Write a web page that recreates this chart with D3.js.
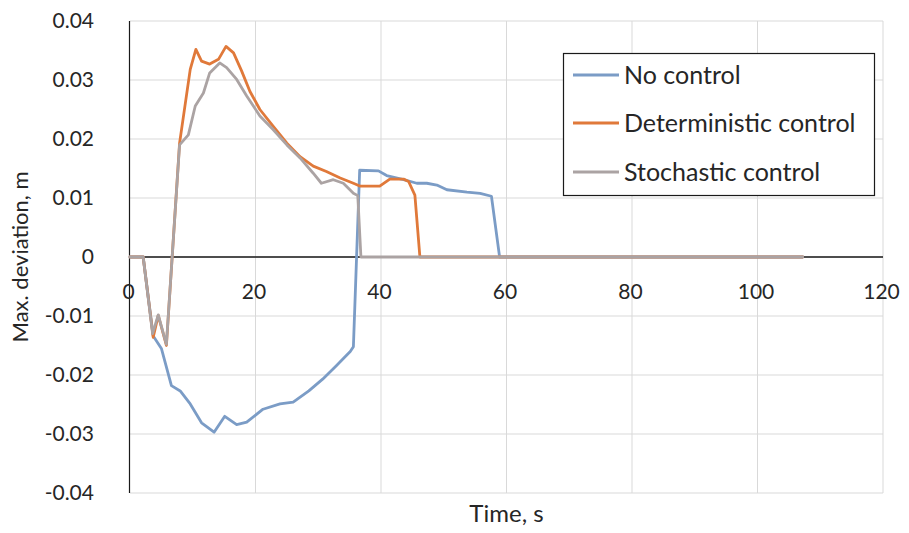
<!DOCTYPE html>
<html>
<head>
<meta charset="utf-8">
<script src="https://cdn.jsdelivr.net/npm/d3@7"></script>
<style>
  html, body { margin: 0; padding: 0; background: #fff; }
  svg { display: block; }
  text { font-family: Lato, "Open Sans", sans-serif; fill: #262626; }
</style>
</head>
<body>
<svg id="chart" width="909" height="533"></svg>
<script>
// Time axis samples (s) and maximum deviation (m) per control strategy
const noControlTime = [0, 2.1, 3.7, 5.0, 6.6, 8.0, 9.6, 11.4, 13.4, 15.1, 17.0, 18.6, 21.2, 23.9, 26.0, 28.5, 30.7, 32.8, 35.1, 35.6, 36.6, 39.6, 40.9, 43.6, 45.7, 47.3, 48.9, 50.5, 53.7, 55.8, 57.6, 58.9, 107.2];
const noControlValue = [0, 0, -0.0134, -0.0155, -0.0218, -0.0227, -0.0249, -0.0281, -0.0297, -0.0270, -0.0284, -0.0280, -0.0258, -0.0249, -0.0246, -0.0227, -0.0207, -0.0185, -0.0160, -0.0152, 0.0147, 0.0146, 0.0138, 0.0131, 0.0125, 0.0125, 0.0122, 0.0114, 0.0110, 0.0108, 0.0103, 0, 0];

const detTime = [0, 2.1, 3.7, 4.5, 5.8, 7.9, 9.6, 10.5, 11.4, 12.7, 14.1, 15.3, 16.5, 17.8, 19.1, 20.7, 22.8, 25.0, 27.1, 29.2, 31.3, 33.5, 35.6, 36.7, 39.8, 41.4, 43.6, 44.4, 45.4, 46.2, 107.2];
const detValue = [0, 0, -0.0136, -0.0099, -0.0150, 0.0193, 0.0318, 0.0352, 0.0332, 0.0327, 0.0335, 0.0357, 0.0346, 0.0315, 0.0281, 0.0250, 0.0222, 0.0193, 0.0170, 0.0154, 0.0145, 0.0134, 0.0125, 0.0120, 0.0120, 0.0132, 0.0132, 0.0128, 0.0105, 0, 0];

const stoTime = [0, 2.1, 3.6, 4.5, 5.8, 7.9, 9.3, 10.4, 11.7, 12.7, 14.3, 15.4, 17.0, 18.6, 20.7, 22.8, 25.0, 27.1, 29.2, 30.5, 32.4, 34.0, 35.6, 36.3, 36.8, 107.2];
const stoValue = [0, 0, -0.0130, -0.0098, -0.0148, 0.0190, 0.0207, 0.0256, 0.0278, 0.0312, 0.0329, 0.0321, 0.0301, 0.0273, 0.0239, 0.0216, 0.0190, 0.0168, 0.0142, 0.0125, 0.0131, 0.0125, 0.0108, 0.0104, 0, 0];

const seriesNames = ["No control", "Deterministic control", "Stochastic control"];
const seriesColors = ["#7b9cc6", "#e0793a", "#aba3a3"];

const xTicks = [0, 20, 40, 60, 80, 100, 120];
const yTicks = [-0.04, -0.03, -0.02, -0.01, 0, 0.01, 0.02, 0.03, 0.04];

const svg = d3.select("#chart");
const plot = { left: 130, right: 883, top: 21, bottom: 493 };

const x = d3.scaleLinear().domain([0, 120]).range([plot.left, plot.right]);
const y = d3.scaleLinear().domain([-0.04, 0.04]).range([plot.bottom, plot.top]);

// Gridlines
svg.append("g").selectAll("line.h").data(yTicks).join("line")
  .attr("x1", plot.left).attr("x2", plot.right)
  .attr("y1", d => y(d)).attr("y2", d => y(d))
  .attr("stroke", "#d9d9d9").attr("stroke-width", 1);
svg.append("g").selectAll("line.v").data(xTicks.filter(d => d > 0)).join("line")
  .attr("x1", d => x(d)).attr("x2", d => x(d))
  .attr("y1", plot.top).attr("y2", plot.bottom)
  .attr("stroke", "#d9d9d9").attr("stroke-width", 1);

// Vertical axis with labels
const yAxis = d3.axisLeft(y).tickValues(yTicks).tickSize(0).tickPadding(0)
  .tickFormat(d => d === 0 ? "0" : d3.format(".2f")(d).replace("−", "-"));
const yG = svg.append("g").attr("transform", `translate(${plot.left - 36},0)`).call(yAxis);
yG.select(".domain").remove();
yG.selectAll("text").style("font-size", "21px").attr("fill", "#262626");

svg.append("line")
  .attr("x1", plot.left - 0.5).attr("x2", plot.left - 0.5)
  .attr("y1", plot.top).attr("y2", plot.bottom)
  .attr("stroke", "#1a1a1a").attr("stroke-width", 1.2);

// Horizontal axis through zero, labels just below it
svg.append("line")
  .attr("x1", plot.left).attr("x2", plot.right)
  .attr("y1", y(0)).attr("y2", y(0))
  .attr("stroke", "#1a1a1a").attr("stroke-width", 1.5);
const xAxis = d3.axisBottom(x).tickValues(xTicks).tickSize(0).tickPadding(0);
const xG = svg.append("g").attr("transform", `translate(-2,${y(0) + 35})`).call(xAxis);
xG.select(".domain").remove();
xG.selectAll("text").style("font-size", "21px").attr("fill", "#262626").attr("dy", "0.35em");

// Series lines
const times = [noControlTime, detTime, stoTime];
const values = [noControlValue, detValue, stoValue];
const line = d3.line().x(d => x(d[0])).y(d => y(d[1]));
times.forEach((t, i) => {
  const pts = t.map((tv, j) => [tv, values[i][j]]);
  svg.append("path").datum(pts)
    .attr("d", line)
    .attr("fill", "none")
    .attr("stroke", seriesColors[i])
    .attr("stroke-width", 2.8)
    .attr("stroke-linejoin", "round")
    .attr("stroke-linecap", "round");
});

// Axis titles
svg.append("text")
  .attr("x", (plot.left + plot.right) / 2).attr("y", 522)
  .attr("text-anchor", "middle").style("font-size", "24px")
  .text("Time, s");
svg.append("text")
  .attr("transform", `translate(28,${y(0)}) rotate(-90)`)
  .attr("text-anchor", "middle").style("font-size", "22px")
  .text("Max. deviation, m");

// Legend
const legend = svg.append("g");
legend.append("rect")
  .attr("x", 563.5).attr("y", 53.5).attr("width", 311).attr("height", 142)
  .attr("fill", "#fff").attr("stroke", "#1a1a1a").attr("stroke-width", 1.2);
const rowsY = [75, 123, 172];
seriesNames.forEach((name, i) => {
  legend.append("line")
    .attr("x1", 573).attr("x2", 619)
    .attr("y1", rowsY[i]).attr("y2", rowsY[i])
    .attr("stroke", seriesColors[i]).attr("stroke-width", 2.8);
  legend.append("text")
    .attr("x", 624).attr("y", rowsY[i]).attr("dy", "0.35em")
    .style("font-size", "25px")
    .text(name);
});
</script>
</body>
</html>
